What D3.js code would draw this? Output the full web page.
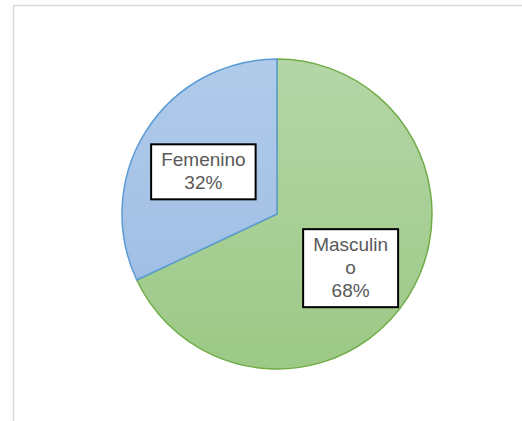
<!DOCTYPE html>
<html lang="es">
<head>
    <meta charset="UTF-8">
    <title>Sexo</title>
    <style>
        html, body {
            margin: 0;
            padding: 0;
            background: #fff;
            overflow: hidden;
        }
        svg {
            display: block;
        }
        .label-text {
            font-family: "Liberation Sans", Arial, sans-serif;
            font-size: 19px;
            fill: #595959;
            text-anchor: middle;
        }
    </style>
    <script src="https://d3js.org/d3.v7.min.js"></script>
</head>
<body>
    <svg></svg>
    <script>
        // data
        var categories = ["Masculino", "Femenino"];
        var values = [68, 32];
        var fillTop = ["#b5d6a7", "#b0cbea"];
        var fillBottom = ["#9cc986", "#9bbae3"];
        var strokes = ["#70ad47", "#5b9bd5"];

        var width = 522,
            height = 421;

        var svg = d3.select("svg")
            .attr("width", width)
            .attr("height", height);

        // chart frame (runs off the right and bottom edges)
        svg.append("rect")
            .attr("x", 13.5)
            .attr("y", 5.5)
            .attr("width", 600)
            .attr("height", 500)
            .attr("fill", "none")
            .attr("stroke", "#d9d9d9")
            .attr("stroke-width", 1.5);

        var cx = 277, cy = 214, radius = 155;

        var defs = svg.append("defs");
        categories.forEach(function(c, i) {
            var g = defs.append("linearGradient")
                .attr("id", "grad" + i)
                .attr("gradientUnits", "userSpaceOnUse")
                .attr("x1", 0).attr("y1", -radius)
                .attr("x2", 0).attr("y2", radius);
            g.append("stop").attr("offset", "0%").attr("stop-color", fillTop[i]);
            g.append("stop").attr("offset", "100%").attr("stop-color", fillBottom[i]);
        });

        var data = categories.map(function(c, i) { return { name: c, value: values[i], i: i }; });

        var pie = d3.pie()
            .value(function(d) { return d.value; })
            .sort(null);

        var arc = d3.arc()
            .innerRadius(0)
            .outerRadius(radius);

        var labelArc = d3.arc()
            .innerRadius(radius * 0.58)
            .outerRadius(radius * 0.58);

        var arcs = pie(data);
        var total = d3.sum(values);

        var g = svg.append("g")
            .attr("transform", "translate(" + cx + "," + cy + ")");

        g.selectAll("path")
            .data(arcs)
            .enter().append("path")
            .attr("d", arc)
            .attr("fill", function(d) { return "url(#grad" + d.data.i + ")"; })
            .attr("stroke", function(d) { return strokes[d.data.i]; })
            .attr("stroke-width", 1.5)
            .attr("stroke-linejoin", "round");

        // wrap a word by characters when it is wider than maxWidth
        var measure = svg.append("text").attr("class", "label-text").attr("visibility", "hidden");
        function wrap(word, maxWidth) {
            var lines = [], cur = "";
            for (var k = 0; k < word.length; k++) {
                var test = cur + word[k];
                measure.text(test);
                if (cur && measure.node().getComputedTextLength() > maxWidth) {
                    lines.push(cur);
                    cur = word[k];
                } else {
                    cur = test;
                }
            }
            if (cur) lines.push(cur);
            return lines;
        }

        var lineHeight = 23;
        var labels = g.selectAll("g.label")
            .data(arcs)
            .enter().append("g")
            .attr("class", "label");

        labels.each(function(d) {
            var sel = d3.select(this);
            var pct = Math.round(d.data.value / total * 100) + "%";
            var lines = wrap(d.data.name, 85).concat([pct]);
            var c = labelArc.centroid(d);
            c = [c[0] * 0.97, c[1] + 6];
            var maxW = 0;
            lines.forEach(function(l) {
                measure.text(l);
                maxW = Math.max(maxW, measure.node().getComputedTextLength());
            });
            var boxW = maxW + 20,
                boxH = lines.length * lineHeight + 9;
            sel.append("rect")
                .attr("x", c[0] - boxW / 2)
                .attr("y", c[1] - boxH / 2)
                .attr("width", boxW)
                .attr("height", boxH)
                .attr("fill", "#fff")
                .attr("stroke", "#000")
                .attr("stroke-width", 2);
            sel.selectAll("text")
                .data(lines)
                .enter().append("text")
                .attr("class", "label-text")
                .attr("x", c[0])
                .attr("y", function(l, k) {
                    return c[1] - boxH / 2 + 4.5 + lineHeight * k + 17.5;
                })
                .text(function(l) { return l; });
        });

        measure.remove();
    </script>
</body>
</html>
